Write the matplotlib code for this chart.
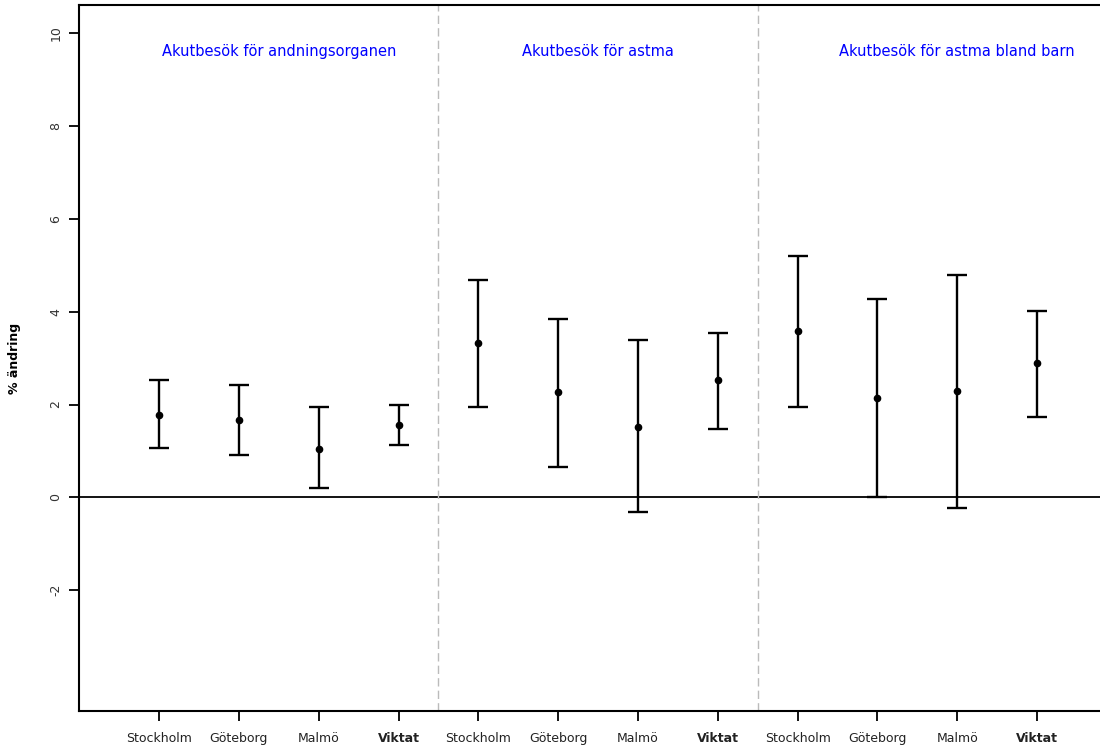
import matplotlib
matplotlib.use("Agg")
import matplotlib.pyplot as plt
from matplotlib.transforms import ScaledTranslation

plt.rcParams['font.family'] = ['DejaVu Sans']

# Skattningar per stad och viktat medel, tre utfall
stader = ["Stockholm", "Göteborg", "Malmö", "Viktat"]
rubriker = ["Akutbesök för andningsorganen", "Akutbesök för astma",
            "Akutbesök för astma bland barn"]
rubrik_x = [2.5, 6.5, 11.0]

punkt = [1.78, 1.66, 1.05, 1.56,
         3.33, 2.27, 1.51, 2.53,
         3.58, 2.14, 2.29, 2.90]
nedre = [1.07, 0.92, 0.20, 1.12,
         1.95, 0.65, -0.32, 1.48,
         1.95, 0.00, -0.22, 1.74]
ovre = [2.52, 2.41, 1.95, 2.00,
        4.68, 3.85, 3.39, 3.55,
        5.20, 4.27, 4.79, 4.01]

x = list(range(1, len(punkt) + 1))
fel_ned = [p - n for p, n in zip(punkt, nedre)]
fel_upp = [o - p for p, o in zip(punkt, ovre)]

fig = plt.figure(figsize=(11, 7.46), dpi=100)
ax = fig.add_axes([0.072, 0.047, 0.9434, 0.946])

ax.axhline(0, color='black', lw=1.3, zorder=1)
for sep in [4.5, 8.5]:
    ax.axvline(sep, color='#bbbbbb', lw=1.0, ls=(0, (6, 3)), zorder=1)

ax.errorbar(x, punkt, yerr=[fel_ned, fel_upp], fmt='o', color='black',
            ms=4.5, elinewidth=1.7, capsize=7, capthick=1.7, zorder=3)

for tx, txt in zip(rubrik_x, rubriker):
    ax.text(tx, 9.6, txt, color='blue', fontsize=10.5, ha='center', va='center')

ax.set_xlim(0, 13)
ax.set_ylim(-4.6, 10.6)
ax.set_yticks(range(-2, 11, 2))
ax.set_yticklabels([str(v) for v in range(-2, 11, 2)], rotation=90,
                   va='center', fontsize=9, color='#333333')
ax.set_xticks(x)
ax.set_xticklabels(stader * 3, fontsize=9, color='#222222')
lyft = ScaledTranslation(0, 4 / 100, fig.dpi_scale_trans)
for i, lbl in enumerate(ax.get_xticklabels()):
    if stader[i % 4] == "Viktat":
        lbl.set_fontweight('bold')
    if stader[i % 4] == "Göteborg":
        lbl.set_transform(lbl.get_transform() + lyft)
ax.tick_params(axis='both', length=7, width=1.3)
ax.tick_params(axis='y', pad=5)
ax.tick_params(axis='x', pad=8)
ax.set_ylabel("% ändring", fontsize=9, fontweight='bold')
ax.yaxis.set_label_coords(-0.056, 0.5)

for s in ax.spines.values():
    s.set_linewidth(1.5)

fig.savefig("out.png", dpi=100)
